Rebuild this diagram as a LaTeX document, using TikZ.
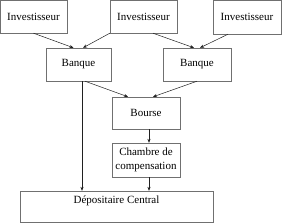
\documentclass[tikz,border=0pt]{standalone}
\usepackage{fontspec}
\setmainfont{Liberation Serif}
\usetikzlibrary{arrows.meta, calc}
\definecolor{boxgray}{HTML}{707070}
\definecolor{linegray}{HTML}{202020}

\begin{document}
\begin{tikzpicture}[x=1pt, y=-1pt,
    block/.style={rectangle, draw=boxgray, fill=white, minimum width=67pt, minimum height=33pt, inner sep=2pt, font=\fontsize{11}{13.5}\selectfont, align=center},
    arr/.style={-{Stealth[length=4pt, width=3.2pt]}, draw=linegray, line width=0.5pt}
  ]
  \useasboundingbox (0,0) rectangle (300,223);

  % Investors
  \node[block] (inv1) at (33.5, 16.5) {Investisseur};
  \node[block] (inv2) at (143.5, 16.5) {Investisseur};
  \node[block, minimum width=68pt, minimum height=34pt] (inv3) at (247, 17) {Investisseur};

  % Banks
  \node[block, minimum width=65pt] (bank1) at (78.5, 64.5) {Banque};
  \node[block, minimum width=68pt] (bank2) at (197, 64.5) {Banque};

  % Exchange and clearing
  \node[block, minimum width=68pt, minimum height=32pt] (bourse) at (146, 113) {Bourse};
  \node[block, minimum width=68pt, minimum height=34pt] (chambre) at (146, 160) {Chambre de\\compensation};
  \node[block, minimum width=193pt, minimum height=31pt] (depot) at (116.5, 206.5) {D\'epositaire Central\\\mbox{}};

  \draw[arr] (inv1.south) -- ([xshift=-5pt]bank1.north);
  \draw[arr] (inv2.south west) -- ([xshift=4.5pt]bank1.north);
  \draw[arr] ([xshift=9.5pt]inv2.south) -- ([xshift=-3pt]bank2.north);
  \draw[arr] ([xshift=-19pt]inv3.south) -- ([xshift=3pt]bank2.north);

  \draw[arr] ([xshift=6.5pt]bank1.south) -- ([xshift=-18pt]bourse.north);
  \draw[arr] (bank2.south) -- ([xshift=7pt]bourse.north);
  \draw[arr] ([xshift=3.5pt]bank1.south) -- ([xshift=3.5pt]bank1.south |- depot.north);

  \draw[arr] ([xshift=3pt]bourse.south) -- ([xshift=3pt]chambre.north);
  \draw[arr] ([xshift=3pt]chambre.south) -- ([xshift=3pt]chambre.south |- depot.north);
\end{tikzpicture}
\end{document}
